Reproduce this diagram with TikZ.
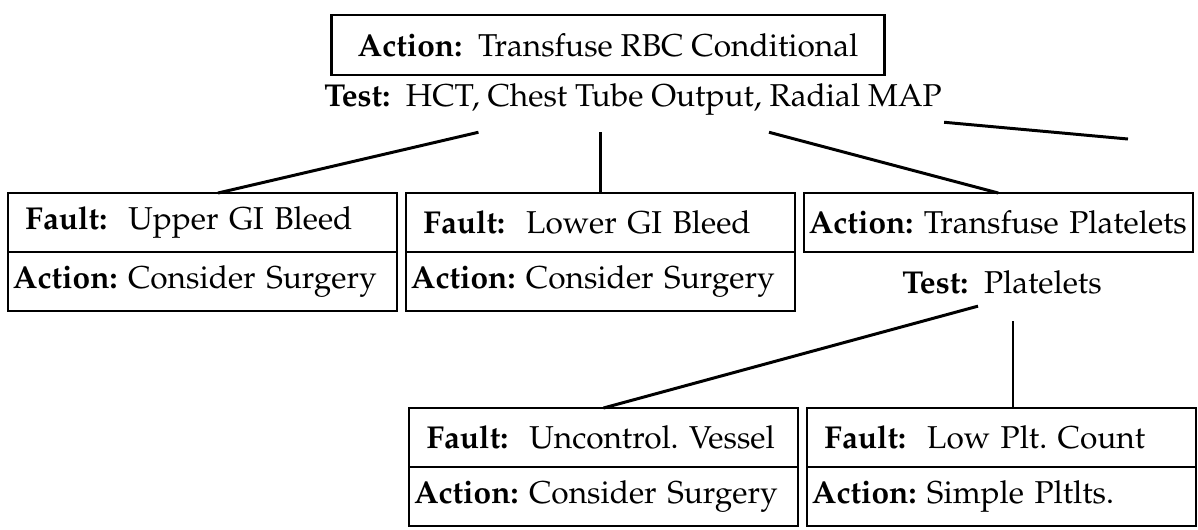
\documentclass[tikz,border=0pt]{standalone}
\usepackage[T1]{fontenc}
\usepackage{mathpazo}
\usetikzlibrary{positioning, calc}
\frenchspacing

\begin{document}
\begin{tikzpicture}[
    x=0.02cm, y=-0.02cm,
    every node/.style={font=\fontsize{18}{21}\selectfont},
    topbox/.style={rectangle, draw, line width=1.4pt, outer sep=0pt, minimum width=11.06cm, minimum height=1.2cm, text centered},
    actrow/.style={rectangle, draw, line width=1.4pt, outer sep=0pt, minimum width=7.78cm, minimum height=1.18cm, inner xsep=0.1cm, text width=7.58cm, align=left},
    faultrow/.style={actrow, inner xsep=0.35cm, text width=7.08cm},
    testlabel/.style={inner xsep=0pt},
    branch/.style={line width=1.7pt},
    thinbranch/.style={line width=0.85pt}
]
\useasboundingbox (0,0) rectangle (1198,529);

% Top action and its test
\node[topbox] (rbc) at (608,45) {\textbf{Action:}\ \ Transfuse RBC Conditional};
\node[testlabel, inner ysep=0.32cm] (hct) at (633,100) {\textbf{Test:}\ \ HCT, Chest Tube Output, Radial MAP};

% Second level
\node[faultrow, anchor=north west] (upgi) at (8,193) {\textbf{Fault:}\ \ Upper GI Bleed};
\node[actrow, below=0pt of upgi] (upgiact) {\textbf{Action:} Consider Surgery};
\node[faultrow, right=0.18cm of upgi] (logi) {\textbf{Fault:}\ \ Lower GI Bleed};
\node[actrow, below=0pt of logi] (logiact) {\textbf{Action:} Consider Surgery};
\node[actrow, right=0.18cm of logi] (plt) {\textbf{Action:} Transfuse Platelets};
\node[testlabel, inner ysep=0.24cm] (plttest) at (1002,282) {\textbf{Test:}\ \ Platelets};

% Third level
\node[faultrow, anchor=north west] (vessel) at (409,408) {\textbf{Fault:}\ \ Uncontrol. Vessel};
\node[actrow, below=0pt of vessel] (vesselact) {\textbf{Action:} Consider Surgery};
\node[faultrow, right=0.18cm of vessel] (lowplt) {\textbf{Fault:}\ \ Low Plt. Count};
\node[actrow, below=0pt of lowplt] (lowpltact) {\textbf{Action:} Simple Pltlts.};

\coordinate (open) at (1128,139);
\coordinate (pltfoot) at ($(plttest.south)+(11,15)$);

% Branches
\draw[branch] ($(hct.south west)!0.25!(hct.south east)$) -- ($(upgi.north west)!0.54!(upgi.north east)$);
\draw[branch] (hct.south -| logi.north) -- (logi.north);
\draw[branch] ($(hct.south west)!0.72!(hct.south east)$) -- (plt.north);
\draw[branch] ($(hct.south east)+(2,-10)$) -- (open);
\draw[branch] ($(plttest.south west)!0.38!(plttest.south east)$) -- (vessel.north);
\draw[thinbranch] (pltfoot) -- (pltfoot |- lowplt.north);

\end{tikzpicture}
\end{document}
